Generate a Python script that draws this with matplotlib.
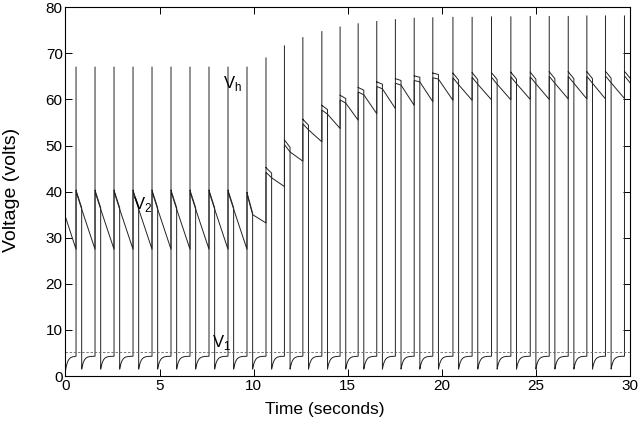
import numpy as np
import matplotlib
matplotlib.use("Agg")
import matplotlib.pyplot as plt

plt.rcParams['font.family'] = ['Liberation Sans', 'DejaVu Sans']

# ---- data ----
spike_times = [0.56, 1.57, 2.58, 3.59, 4.60, 5.61, 6.62, 7.63, 8.64, 9.65,
               10.66, 11.64, 12.62, 13.63, 14.60, 15.56, 16.55, 17.54, 18.54, 19.53,
               20.60, 21.62, 22.65, 23.68, 24.71, 25.72, 26.73, 27.72, 28.71, 29.72]
peak_values = [67, 67, 67, 67, 67, 67, 67, 67, 67, 67,
               69.0, 71.6, 73.4, 74.7, 75.7, 76.4, 76.9, 77.3, 77.6, 77.7,
               77.8, 77.8, 77.9, 77.9, 78.0, 78.0, 78.0, 78.1, 78.1, 78.1]
# V2 value right after each firing
saw_top = [40, 40, 40, 40, 40, 40, 40, 40, 40, 39.5,
           44.2, 50.2, 54.7, 57.7, 59.9, 61.6, 62.8, 63.5, 64.1, 64.7,
           64.7, 64.8, 64.8, 64.9, 64.9, 65.0, 65.0, 65.0, 65.1, 65.1]
# V2 value 0.3 s after firing (when V_h drops)
saw_mid = [36.2, 36.2, 36.2, 36.2, 36.2, 36.2, 36.2, 36.2, 36.2, 35.0,
           43.0, 48.6, 53.4, 56.8, 59.2, 61.0, 62.3, 63.1, 63.8, 64.4,
           63.2, 63.3, 63.3, 63.4, 63.4, 63.5, 63.5, 63.5, 63.6, 63.6]
# V2 value just before the next firing
saw_end = [27.5, 27.5, 27.5, 27.5, 27.5, 27.5, 27.5, 27.5, 27.5, 33.2,
           41.1, 46.6, 50.8, 53.7, 55.5, 56.9, 58.0, 58.7, 59.5, 59.8,
           59.8, 59.9, 59.9, 60.0, 60.0, 60.1, 60.1, 60.1, 60.2, 60.2]
v2_start = 34.5
v2_first_end = 27.5
vh_offset = [0.3] * 10 + [1.0] * 20
drop_delay = 0.30
vh_low = 1.5
vh_rest = 4.3
vh_start = 1.2
v1_level = 5.2

# ---- build traces ----
def recovery(t0, t1, v0):
    tt = np.linspace(t0, t1, 50)
    vv = vh_rest - (vh_rest - v0) * np.exp(-(tt - t0) / 0.12)
    return tt, vv

vh_t, vh_v = [], []
tt, vv = recovery(0.0, spike_times[0], vh_start)
vh_t += list(tt); vh_v += list(vv)
v2_t = [0.0, spike_times[0]]
v2_v = [v2_start, v2_first_end]
for k, tk in enumerate(spike_times):
    t_next = spike_times[k + 1] if k + 1 < len(spike_times) else 30.5
    td = tk + drop_delay
    off = vh_offset[k]
    # spike drawn once (break the path instead of retracing it)
    vh_t += [tk, tk, np.nan, tk, td, td]
    vh_v += [vh_rest, peak_values[k], np.nan, saw_top[k] + off, saw_mid[k] + off, vh_low]
    tt, vv = recovery(td, t_next, vh_low)
    vh_t += list(tt); vh_v += list(vv)
    v2_t += [tk, td, t_next]
    v2_v += [saw_top[k], saw_mid[k], saw_end[k]]

fig = plt.figure(figsize=(6.39, 4.23), dpi=100)
ax = fig.add_axes([0.1025, 0.111, 0.883, 0.872])
lc = '#222222'
ax.plot(v2_t, v2_v, color=lc, lw=0.7)
ax.plot(vh_t, vh_v, color=lc, lw=0.7)
ax.axhline(v1_level, color='#666666', lw=0.6, ls=(0, (3, 2)))

ax.set_xlim(0, 30)
ax.set_ylim(0, 80)
ax.set_xticks([0, 5, 10, 15, 20, 25, 30])
ax.set_yticks([0, 10, 20, 30, 40, 50, 60, 70, 80])
ax.tick_params(direction='in', top=True, right=True, length=5, width=0.7,
               labelsize=11, pad=2)
for s in ax.spines.values():
    s.set_linewidth(0.8)
ax.set_xlabel('Time (seconds)', fontsize=12.5)
ax.set_ylabel('Voltage (volts)', fontsize=14)
ax.xaxis.set_label_coords(0.46, -0.092)
ax.xaxis.label.set_va('center')
ax.yaxis.set_label_coords(-0.095, 0.505)
ax.yaxis.label.set_va('center')

ax.text(8.86, 63.4, r'V$_\mathregular{h}$', fontsize=12, ha='center', va='center')
ax.text(4.12, 37.3, r'V$_\mathregular{2}$', fontsize=12, ha='center', va='center')
ax.text(8.32, 7.2, r'V$_\mathregular{1}$', fontsize=12, ha='center', va='center')

fig.savefig('out.png', dpi=100)
